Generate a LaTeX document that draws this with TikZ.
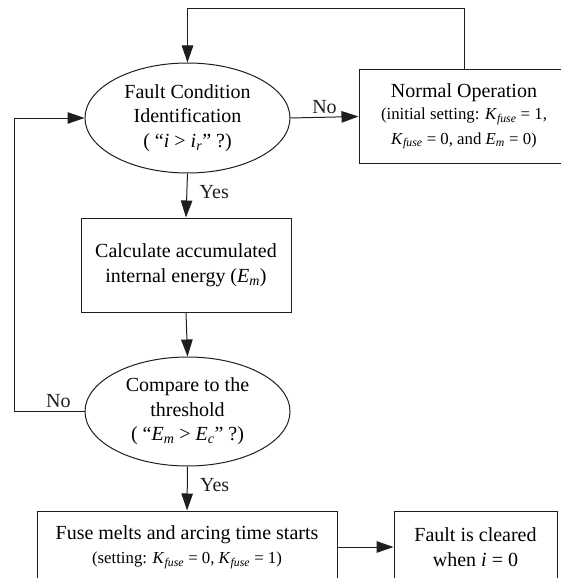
\documentclass[tikz,border=0pt]{standalone}
\usepackage{fontspec}
\setmainfont{Liberation Serif}
\usepackage{tikz}
\usetikzlibrary{arrows.meta,positioning,shapes.geometric}
\definecolor{ink}{HTML}{1E1E1E}
\newcommand{\bigtxt}{\fontsize{20}{24.5}\selectfont}
\newcommand{\smalltxt}{\fontsize{16.8}{22}\selectfont}
\newcommand{\Kf}{\textit{K}\textsubscript{\textit{fuse}}}
\newcommand{\Em}{\textit{E}\textsubscript{\textit{m}}}
\tikzset{block/.style={draw=ink,line width=1pt,align=center,font=\bigtxt,inner sep=0pt},arr/.style={-{Triangle[length=17pt,width=11.5pt]},draw=ink,line width=1pt},lbl/.style={font=\bigtxt,text=ink}}

\begin{document}
\begin{tikzpicture}[x=1pt,y=-1pt,state/.style={ellipse,draw=ink,line width=1pt,align=center,font=\bigtxt,inner sep=0pt,minimum width=205pt,minimum height=110pt}]
\clip (0,0) rectangle (561,578);
\node[state] (ident) at (187.5,118) {Fault Condition\\Identification\\( “\textit{i} > \textit{i}\textsubscript{\textit{r}}” ?)};
\node[block,minimum width=210pt,minimum height=93pt] (normal) at (464,116.5) {Normal Operation\\[-2pt]{\smalltxt (initial setting: \Kf{} = 1,}\\{\smalltxt \Kf{} = 0, and \Em{} = 0)}};
\node[block,minimum width=210pt,minimum height=94pt] (calc) at (186,265) {Calculate accumulated\\internal energy (\Em)};
\node[state,minimum height=109pt] (comp) at (187.5,411.5) {Compare to the\\threshold\\( “\Em{} > \textit{E}\textsubscript{\textit{c}}” ?)};
\node[block,minimum width=300pt,minimum height=72pt] (melt) at (187,547) {Fuse melts and arcing time starts\\{\smalltxt (setting: \Kf{} = 0, \Kf{} = 1)}};
\node[block,minimum width=163pt,minimum height=72pt] (clear) at (475.5,547) {Fault is cleared\\when \textit{i} = 0};
\coordinate (topline) at (187.5,9);
\coordinate (leftline) at (14,411.5);
\draw[arr] (normal.north) |- (topline) -- (ident.north);
\draw[arr] (ident.east) -- node[lbl,above]{No} (normal.west);
\draw[arr] (ident.south) -- node[lbl,right,pos=.42,xshift=9pt]{Yes} (calc.north);
\draw[arr] (calc.south) -- (comp.north);
\draw[arr] (comp.west) -- node[lbl,above,pos=.37]{No} (leftline) |- (ident.west);
\draw[arr] (comp.south) -- node[lbl,right,pos=.42,xshift=9pt]{Yes} (melt.north);
\draw[arr] (melt.east) -- (clear.west);
\end{tikzpicture}
\end{document}
